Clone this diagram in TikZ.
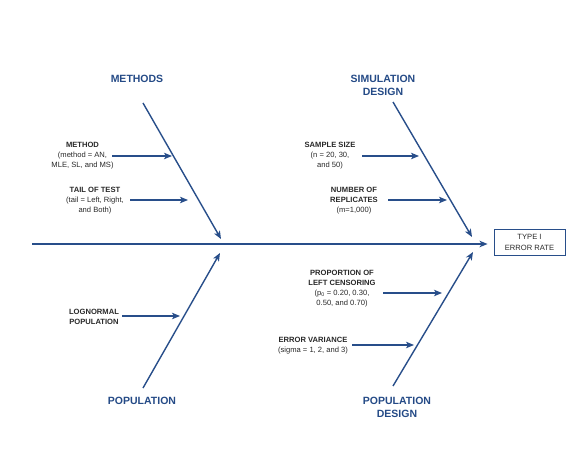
\documentclass[tikz,border=0pt]{standalone}
\usepackage{fontspec}
\setmainfont{Liberation Sans}
\usetikzlibrary{arrows.meta}
\definecolor{boneblue}{RGB}{40,78,138}
\definecolor{headblue}{RGB}{36,74,134}
\definecolor{txtgray}{RGB}{40,40,40}
\tikzset{
  head/.style={font=\fontsize{10.5}{13}\selectfont\bfseries, text=headblue, align=center, inner sep=0pt},
  cause/.style={font=\fontsize{7.6}{10}\selectfont, text=txtgray, align=center, inner sep=0pt},
  bone/.style={draw=boneblue, line width=1.4pt, -{Stealth[length=8pt,width=6.5pt,inset=2pt]}},
  sub/.style={draw=boneblue, line width=1.3pt, -{Stealth[length=8pt,width=6.5pt,inset=2pt]}},
  effect/.style={draw=boneblue, line width=0.9pt, minimum width=71pt, minimum height=26pt, font=\fontsize{7.6}{10.5}\selectfont, text=txtgray, align=center, inner sep=0pt}
}
\begin{document}
\begin{tikzpicture}[x=1pt,y=-1pt]
\useasboundingbox (0,0) rectangle (581,449);
% effect box
\node[effect] (box) at (529.5,242.5) {TYPE I\\ERROR RATE};
% spine
\coordinate (s0) at (32,244);
\draw[bone, shorten >=6pt] (s0) -- (box.west |- s0);
% headers
\node[head] (methods) at (137,79) {METHODS};
\node[head] (sim) at (383,85.5) {SIMULATION\\DESIGN};
\node[head] (pop) at (142,401) {POPULATION};
\node[head] (popd) at (397,407) {POPULATION\\DESIGN};
% bones
\coordinate (m0) at (143,103); \coordinate (m1) at (221,239);
\coordinate (d0) at (393,102); \coordinate (d1) at (472,237);
\coordinate (p0) at (143,388); \coordinate (p1) at (220,253);
\coordinate (q0) at (393,386); \coordinate (q1) at (473,252);
\draw[bone] (m0) -- (m1);
\draw[bone] (d0) -- (d1);
\draw[bone] (p0) -- (p1);
\draw[bone] (q0) -- (q1);
% causes
\node[cause] (method) at (82.5,156) {\textbf{METHOD}\\(method = AN,\\MLE, SL, and MS)};
\node[cause] (tail) at (95,201) {\textbf{TAIL OF TEST}\\(tail = Left, Right,\\and Both)};
\node[cause] (ssize) at (330,156) {\textbf{SAMPLE SIZE}\\(n = 20, 30,\\and 50)};
\node[cause] (nrep) at (354,201) {\textbf{NUMBER OF}\\\textbf{REPLICATES}\\(m=1,000)};
\node[cause] (lognorm) at (94,317) {\textbf{LOGNORMAL}\\\textbf{POPULATION}};
\node[cause] (prop) at (342,288.5) {\textbf{PROPORTION OF}\\\textbf{LEFT CENSORING}\\(p\textsubscript{0} = 0.20, 0.30,\\0.50, and 0.70)};
\node[cause] (errv) at (313,345.5) {\textbf{ERROR VARIANCE}\\(sigma = 1, 2, and 3)};
% cause arrows
\coordinate (a1s) at (112,156); \coordinate (a1e) at (172,156);
\coordinate (a2s) at (130,200); \coordinate (a2e) at (188,200);
\coordinate (a3s) at (362,156); \coordinate (a3e) at (419,156);
\coordinate (a4s) at (388,200); \coordinate (a4e) at (447,200);
\coordinate (a5s) at (122,316); \coordinate (a5e) at (180,316);
\coordinate (a6s) at (383,293); \coordinate (a6e) at (442,293);
\coordinate (a7s) at (352,345); \coordinate (a7e) at (414,345);
\draw[sub] (a1s) -- (a1e);
\draw[sub] (a2s) -- (a2e);
\draw[sub] (a3s) -- (a3e);
\draw[sub] (a4s) -- (a4e);
\draw[sub] (a5s) -- (a5e);
\draw[sub] (a6s) -- (a6e);
\draw[sub] (a7s) -- (a7e);
\end{tikzpicture}
\end{document}
